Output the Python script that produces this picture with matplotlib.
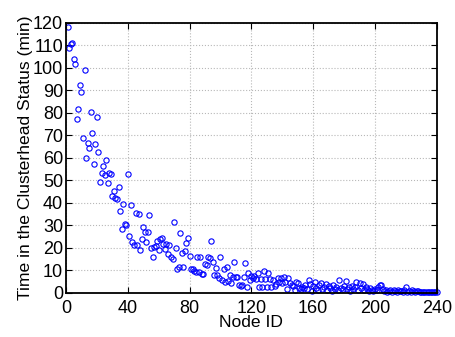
import numpy as np
import matplotlib
matplotlib.use("Agg")
from matplotlib import pyplot as plt

# time each node spent as clusterhead (min), node ids 1..240
node_id = np.arange(1, 241)
ch_time = [
    118.4, 109.0, 110.6, 111.0, 103.9, 101.6, 77.5, 81.9, 92.6, 89.3,
    69.0, 99.0, 60.1, 66.8, 64.6, 80.3, 71.2, 57.2, 66.1, 78.2,
    62.7, 49.2, 53.3, 56.4, 52.4, 59.1, 48.7, 53.3, 52.9, 43.0,
    45.5, 42.1, 41.8, 47.0, 36.4, 28.6, 39.6, 30.5, 30.2, 52.8,
    25.2, 39.1, 22.4, 21.2, 35.7, 21.2, 35.2, 19.0, 24.0, 29.3,
    27.1, 22.4, 27.1, 34.8, 20.0, 16.0, 20.3, 21.0, 23.1, 19.0,
    23.9, 24.6, 21.8, 19.3, 21.5, 17.2, 21.2, 15.9, 15.0, 31.3,
    20.1, 10.8, 11.7, 26.7, 17.9, 11.7, 18.8, 22.1, 24.6, 16.5,
    10.7, 10.4, 9.9, 9.3, 16.0, 9.2, 15.9, 8.4, 8.4, 12.9,
    12.3, 16.1, 15.4, 23.0, 13.5, 7.9, 11.0, 8.0, 6.4, 15.9,
    5.6, 10.4, 4.9, 11.3, 5.3, 8.1, 4.6, 7.2, 13.6, 7.1,
    7.0, 3.7, 3.1, 3.4, 7.1, 13.2, 2.5, 9.0, 5.5, 7.4,
    6.4, 7.3, 6.1, 9.0, 2.8, 6.1, 2.5, 9.6, 6.1, 2.8,
    8.7, 6.1, 2.4, 5.8, 3.1, 3.9, 6.5, 5.0, 6.5, 4.3,
    7.0, 5.0, 1.5, 6.8, 4.3, 3.6, 3.1, 1.2, 4.7, 4.3,
    2.0, 1.5, 2.8, 2.1, 3.5, 1.8, 5.8, 3.9, 1.0, 3.1,
    5.0, 2.2, 1.4, 3.5, 4.6, 1.6, 2.4, 4.0, 1.2, 3.0,
    2.1, 0.8, 3.6, 1.9, 2.8, 1.2, 5.5, 2.3, 1.5, 3.2,
    5.2, 1.8, 2.6, 1.0, 3.1, 1.7, 2.5, 5.0, 1.3, 4.3,
    2.0, 3.9, 1.1, 2.4, 1.6, 0.9, 2.2, 1.4, 0.7, 1.8,
    1.2, 2.6, 3.4, 3.7, 1.5, 0.8, 1.3, 0.6, 1.0, 1.4,
    0.6, 1.2, 0.9, 0.5, 1.1, 0.7, 1.0, 0.6, 1.3, 2.7,
    0.6, 0.9, 0.5, 1.1, 0.7, 0.4, 0.8, 1.0, 0.5, 0.3,
    0.6, 0.4, 0.5, 0.3, 0.4, 0.2, 0.3, 0.5, 0.3, 0.2,
]
xticks = [0, 40, 80, 120, 160, 200, 240]
yticks = list(range(0, 121, 10))

plt.rcParams['font.family'] = ['Liberation Sans', 'DejaVu Sans']

fig = plt.figure(figsize=(4.55, 3.37), dpi=100)
ax = fig.add_axes([0.145, 0.131, 0.815, 0.801])

ax.plot(node_id, ch_time, 'o', mfc='none', mec='#0000ff', ms=3.8, mew=0.8, clip_on=False)

ax.set_xlim(0, 240)
ax.set_ylim(0, 120)
ax.set_xticks(xticks)
ax.set_yticks(yticks)
ax.tick_params(direction='in', top=True, right=True, labelsize=13, length=4, width=0.8)
ax.tick_params(axis='x', pad=5)
ax.tick_params(axis='y', pad=2)
ax.grid(True, linestyle=':', color='#b8b8b8', linewidth=0.8)
for s in ax.spines.values():
    s.set_linewidth(1.3)

ax.set_xlabel('Node ID', fontsize=12.6, labelpad=-1)
ax.set_ylabel('Time in the Clusterhead Status (min)', fontsize=12.6, labelpad=0)

fig.savefig('out.png', dpi=100)
